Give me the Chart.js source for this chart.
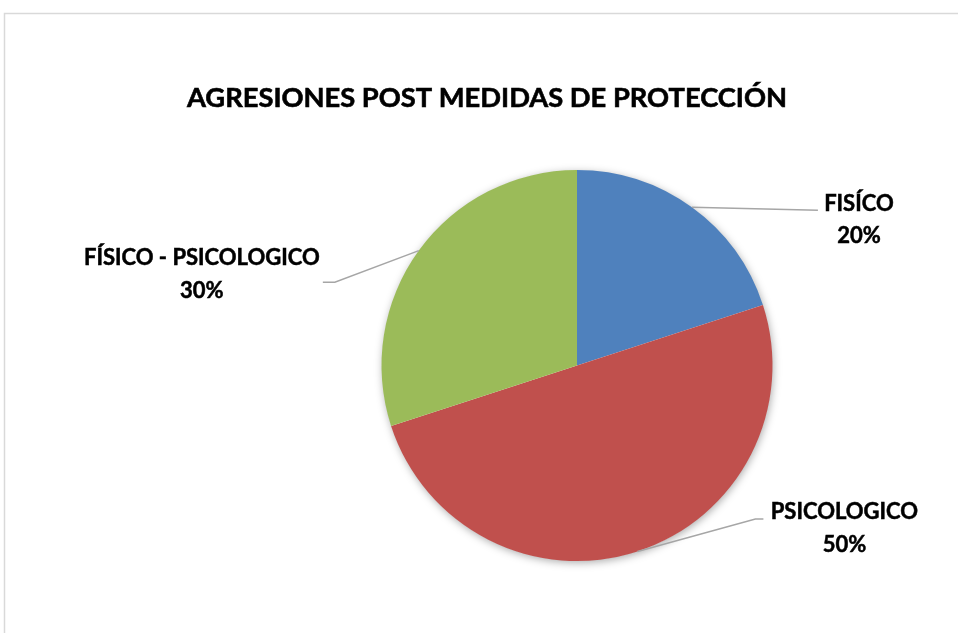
<!DOCTYPE html>
<html>
<head>
<meta charset="utf-8">
<script src="https://cdn.jsdelivr.net/npm/chart.js@4/dist/chart.umd.min.js"></script>
<style>
  html, body { margin: 0; padding: 0; background: #ffffff; }
  #wrap { width: 958px; height: 633px; position: relative; }
</style>
</head>
<body>
<div id="wrap"><canvas id="c" width="958" height="633"></canvas></div>
<script>
const chartTitle = 'AGRESIONES POST MEDIDAS DE PROTECCIÓN';
const categories = ['FISÍCO', 'PSICOLOGICO', 'FÍSICO - PSICOLOGICO'];
const values = [20, 50, 30];
const colors = ['#4F81BD', '#C0504D', '#9BBB59'];

// label placement relative to the slice's outer edge point (mid angle)
const labelLayout = [
  { elbow: [126, 3], end: [126, 3], text: [167, 4], gap: 31.5 },
  { elbow: [118, -32.5], end: [126, -32.5], text: [207, -32.5], gap: 33 },
  { elbow: [-84, 31.6], end: [-96, 31.6], text: [-217, 14], gap: 33 }
];

const FONT = 'Lato, "Open Sans", sans-serif';

function boldText(ctx, txt, x, y) {
  ctx.fillText(txt, x, y);
  ctx.strokeText(txt, x, y);
}

const framePlugin = {
  id: 'frame',
  beforeDraw(chart) {
    const ctx = chart.ctx;
    ctx.save();
    ctx.fillStyle = '#ffffff';
    ctx.fillRect(0, 0, chart.width, chart.height);
    ctx.strokeStyle = '#d9d9d9';
    ctx.lineWidth = 1.5;
    ctx.strokeRect(4.5, 13.5, chart.width + 10, chart.height + 10);
    // title
    ctx.fillStyle = '#000000';
    ctx.strokeStyle = '#000000';
    ctx.lineWidth = 0.6;
    ctx.font = 'bold 27.3px ' + FONT;
    ctx.textAlign = 'center';
    ctx.textBaseline = 'alphabetic';
    boldText(ctx, chartTitle, chart.width / 2 + 8, 107);
    ctx.restore();
  }
};

const shadowPlugin = {
  id: 'pieShadow',
  beforeDatasetsDraw(chart) {
    const arc = chart.getDatasetMeta(0).data[0];
    if (!arc) return;
    const ctx = chart.ctx;
    ctx.save();
    ctx.shadowColor = 'rgba(0,0,0,0.35)';
    ctx.shadowBlur = 9;
    ctx.shadowOffsetX = 1;
    ctx.shadowOffsetY = 2;
    ctx.fillStyle = '#ffffff';
    ctx.beginPath();
    ctx.arc(arc.x, arc.y, arc.outerRadius - 0.5, 0, Math.PI * 2);
    ctx.fill();
    ctx.restore();
  }
};

const labelPlugin = {
  id: 'leaderLabels',
  afterDatasetsDraw(chart) {
    const ctx = chart.ctx;
    const meta = chart.getDatasetMeta(0);
    const data = chart.data.datasets[0].data;
    const total = data.reduce((a, b) => a + b, 0);
    meta.data.forEach((arc, i) => {
      const mid = (arc.startAngle + arc.endAngle) / 2;
      const ex = arc.x + Math.cos(mid) * arc.outerRadius;
      const ey = arc.y + Math.sin(mid) * arc.outerRadius;
      const L = labelLayout[i];
      ctx.save();
      ctx.strokeStyle = '#a6a6a6';
      ctx.lineWidth = 1.5;
      ctx.beginPath();
      ctx.moveTo(ex, ey);
      ctx.lineTo(ex + L.elbow[0], ey + L.elbow[1]);
      ctx.lineTo(ex + L.end[0], ey + L.end[1]);
      ctx.stroke();
      ctx.fillStyle = '#000000';
      ctx.strokeStyle = '#000000';
      ctx.lineWidth = 0.5;
      ctx.font = 'bold 22px ' + FONT;
      ctx.textAlign = 'center';
      ctx.textBaseline = 'alphabetic';
      const tx = ex + L.text[0];
      const ty = ey + L.text[1];
      boldText(ctx, chart.data.labels[i], tx, ty);
      boldText(ctx, Math.round(data[i] / total * 100) + '%', tx, ty + L.gap);
      ctx.restore();
    });
  }
};

new Chart(document.getElementById('c'), {
  type: 'pie',
  data: {
    labels: categories,
    datasets: [{
      data: values,
      backgroundColor: colors,
      borderWidth: 0,
      hoverOffset: 0
    }]
  },
  options: {
    responsive: false,
    animation: false,
    events: [],
    layout: { padding: { top: 170, bottom: 72, left: 196, right: 0 } },
    plugins: {
      legend: { display: false },
      tooltip: { enabled: false },
      title: { display: false }
    }
  },
  plugins: [framePlugin, shadowPlugin, labelPlugin]
});
</script>
</body>
</html>
